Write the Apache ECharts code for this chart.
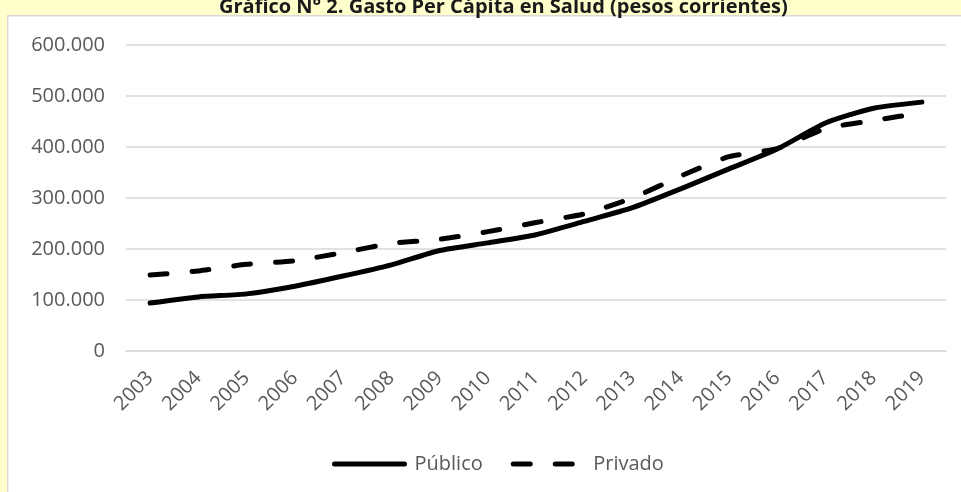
<!DOCTYPE html>
<html>
<head>
<meta charset="utf-8">
<script src="https://cdn.jsdelivr.net/npm/echarts@6/dist/echarts.min.js"></script>
<style>html,body{margin:0;padding:0;background:#FFFFCC;}#c{width:961px;height:492px;}</style>
</head>
<body>
<div id="c"></div>
<script>
const years = ['2003','2004','2005','2006','2007','2008','2009','2010','2011','2012','2013','2014','2015','2016','2017','2018','2019'];
const publico = [94000,106000,112000,127000,147000,169000,197000,212000,228000,254000,281000,318000,357000,396000,447000,476000,488000];
const privado = [149000,157000,170000,177000,193000,211000,219000,234000,252000,269000,300000,343000,381000,397000,436000,452000,467000];
const yTicks = [0,100000,200000,300000,400000,500000,600000];
const titleText = 'Gráfico N° 2. Gasto Per Cápita en Salud (pesos corrientes)';

const chart = echarts.init(document.getElementById('c'));
const fmt = v => v === 0 ? '0' : String(v).replace(/\B(?=(\d{3})+(?!\d))/g, '.');
chart.setOption({
  backgroundColor: '#FFFFCC',
  animation: false,
  graphic: [{
    type: 'rect', left: 7, top: 15, z: -10,
    shape: {width: 970, height: 490},
    style: {fill: '#ffffff', stroke: '#d9d9d9', lineWidth: 1.5}
  }],
  title: {
    text: titleText, left: 214, top: -8,
    textStyle: {fontFamily: 'Open Sans', fontWeight: 'bold', fontSize: 20, color: '#1a1a1a'}
  },
  grid: {left: 126, right: 15, top: 45, bottom: 141},
  legend: {
    top: 449, left: 327,
    itemWidth: 70, itemHeight: 14, itemGap: 28,
    textStyle: {fontFamily: 'Open Sans', fontSize: 20, color: '#595959', padding: [0, 0, 0, 5]},
    itemStyle: {opacity: 0},
    lineStyle: {width: 5, cap: 'round'},
    data: ['Público', 'Privado']
  },
  xAxis: {
    type: 'category', data: years, boundaryGap: true,
    axisLine: {lineStyle: {color: '#d9d9d9', width: 1.5}},
    axisTick: {show: false},
    axisLabel: {rotate: 45, interval: 0, margin: 24, fontFamily: 'Open Sans', fontSize: 20, color: '#595959'}
  },
  yAxis: {
    type: 'value', min: 0, max: 600000, interval: 100000,
    axisLine: {show: false}, axisTick: {show: false},
    splitLine: {lineStyle: {color: '#d9d9d9', width: 1.5}},
    axisLabel: {margin: 21, fontFamily: 'Open Sans', fontSize: 20, color: '#595959',
      formatter: v => yTicks.includes(v) ? fmt(v) : ''}
  },
  series: [
    {name: 'Público', type: 'line', data: publico, symbol: 'none', smooth: 0.2,
      lineStyle: {color: '#000', width: 5, cap: 'round', join: 'round'},
      itemStyle: {color: '#000'}},
    {name: 'Privado', type: 'line', data: privado, symbol: 'none', smooth: 0.2,
      lineStyle: {color: '#000', width: 5, type: [17, 25], cap: 'round', join: 'round'},
      itemStyle: {color: '#000'}}
  ]
});
</script>
</body>
</html>
